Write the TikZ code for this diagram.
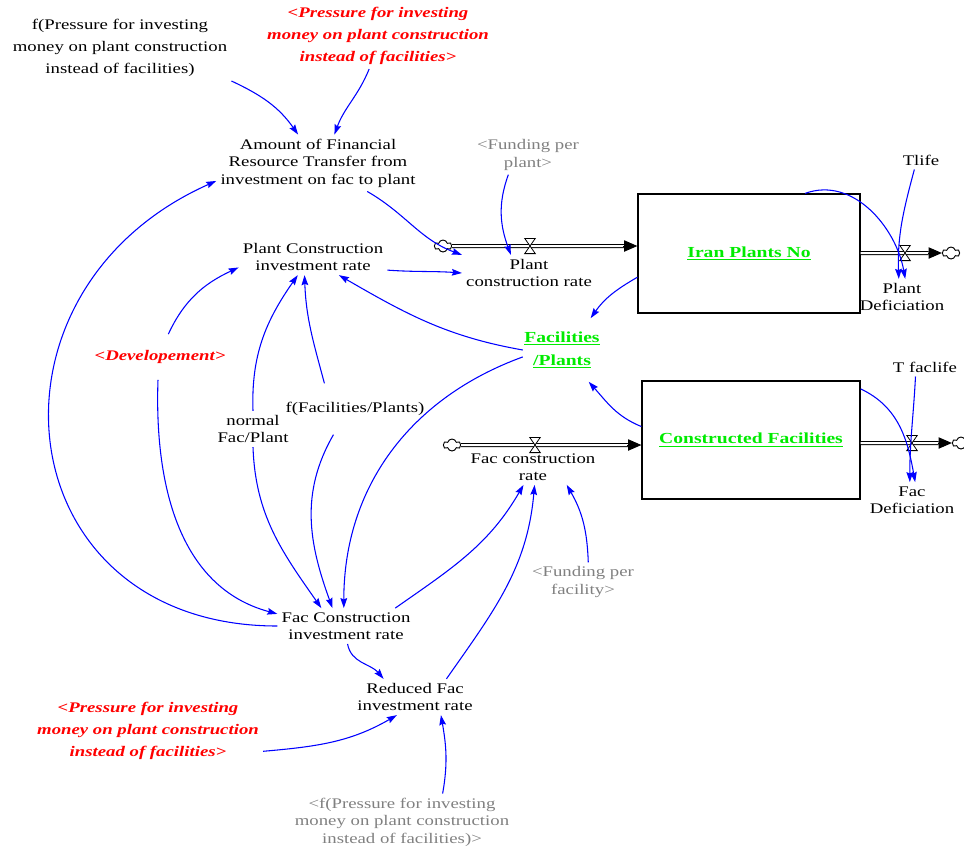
\documentclass[tikz,border=0pt]{standalone}
\usepackage{fontspec}
\setmainfont{Liberation Serif}[FakeStretch=1.28]
\usetikzlibrary{arrows.meta,shapes.symbols}

\definecolor{linkblue}{RGB}{0,0,255}
\definecolor{stockgreen}{RGB}{0,235,0}
\definecolor{shadowgray}{RGB}{128,128,128}
\definecolor{inred}{RGB}{255,0,0}

\tikzset{
  var/.style={align=center, inner sep=3pt, font=\fontsize{11}{13.1}\selectfont},
  bigvar/.style={var, font=\fontsize{11}{16.5}\selectfont},
  redvar/.style={var, text=inred, font=\fontsize{11}{16.5}\selectfont\bfseries\itshape},
  shadowvar/.style={var, text=shadowgray},
  stock/.style={draw, line width=0.9pt, text=stockgreen, font=\fontsize{11.5}{17}\selectfont\bfseries},
  stockvar/.style={var, text=stockgreen, font=\fontsize{11.5}{17.25}\selectfont\bfseries, inner xsep=1pt, inner ysep=10pt},
  link/.style={draw=linkblue, line width=0.8pt, -{Stealth[length=7.5pt,width=5pt,inset=1pt]}},
  pipe/.style={double=white, double distance=1.5pt, line width=0.75pt},
  flowtip/.style={line width=0.75pt, -{Triangle[length=10pt,width=8.5pt]}},
  sink/.style={cloud, cloud puffs=6, draw, fill=white, line width=0.7pt, minimum width=13pt, minimum height=9pt, inner sep=0pt, aspect=1.4},
  valve/.style={minimum width=7.5pt, minimum height=11pt, inner sep=0pt},
}

\begin{document}
\begin{tikzpicture}[x=0.75pt,y=0.75pt]
  \useasboundingbox (0,0) rectangle (964,-850);

  % stocks
  \node[stock, minimum width=166.5pt, minimum height=89.25pt] (iran) at (749,-253.5) {\underline{Iran Plants No}};
  \node[stock, minimum width=163.5pt, minimum height=88.5pt] (constr) at (751,-440) {\underline{Constructed Facilities}};

  % flows
  \node[sink] (cpc) at (443,-246) {};
  \node[sink] (cpd) at (951,-253) {};
  \node[sink] (cfc) at (452,-445) {};
  \node[sink] (cfd) at (961,-443) {};
  \coordinate (pcin) at (cpc -| iran.west);
  \coordinate (pdout) at (cpd -| iran.east);
  \coordinate (fcin) at (cfc -| constr.west);
  \coordinate (fdout) at (cfd -| constr.east);
  \foreach \a/\b in {cpc.east/pcin, pdout/cpd.west, cfc.east/fcin, fdout/cfd.west} {
    \draw[pipe] (\a) -- ([xshift=-10pt]\b);
    \draw[flowtip] ([xshift=-10.5pt]\b) -- (\b);
  }
  \foreach \v/\x/\y in {vpc/530/246, vpd/905/253, vfc/535/445, vfd/912/443}
    \node[valve] (\v) at (\x,-\y) {};
  \foreach \v in {vpc,vpd,vfc,vfd}
    \draw[fill=white, line width=0.6pt] (\v.north west) -- (\v.north east) -- (\v.south west) -- (\v.south east) -- cycle;

  % variables
  \node[bigvar] (fpress) at (120,-48) {f(Pressure for investing\\money on plant construction\\instead of facilities)};
  \node[redvar] (redtop) at (378,-36) {<Pressure for investing\\money on plant construction\\instead of facilities>};
  \node[var] (amount) at (318,-163) {Amount of Financial\\Resource Transfer from\\investment on fac to plant};
  \node[shadowvar] (fundplant) at (528,-155) {<Funding per\\plant>};
  \node[var] (tlife) at (921,-160) {Tlife};
  \node[var] (pcr) at (529,-273) {Plant\\construction rate};
  \node[var] (pcir) at (313,-257) {Plant Construction\\investment rate};
  \node[stockvar] (facplants) at (562,-350) {\underline{Facilities}\\\underline{/Plants}};
  \node[var] (pdef) at (902,-297) {Plant\\Deficiation};
  \node[redvar, inner ysep=12pt] (devel) at (160,-357) {<Developement>};
  \node[var] (tfaclife) at (925,-367) {T faclife};
  \node[var] (nfp) at (253,-429) {normal\\Fac/Plant};
  \node[var, inner ysep=14pt] (ffp) at (355,-409) {f(Facilities/Plants)};
  \node[var] (fcr) at (533,-467) {Fac construction\\rate};
  \node[var] (fdef) at (912,-500) {Fac\\Deficiation};
  \node[shadowvar] (fundfac) at (583,-582) {<Funding per\\facility>};
  \node[var] (fcir) at (346,-626) {Fac Construction\\investment rate};
  \node[var] (rfir) at (415,-697) {Reduced Fac\\investment rate};
  \node[redvar] (redbot) at (148,-731) {<Pressure for investing\\money on plant construction\\instead of facilities>};
  \node[shadowvar] (graybot) at (402,-822) {<f(Pressure for investing\\money on plant construction\\instead of facilities)>};

  % links
  \draw[link] (fpress.south east) to[out=-25,in=125] (amount);
  \draw[link] (redtop.-105) to[out=-112,in=70] (amount.60);
  \draw[link] (amount) to[out=-30,in=160] (pcr.north west);
  \draw[link] (fundplant.-135) to[out=-110,in=110] (pcr.135);
  \draw[link] (pcir.-10) to[out=-4,in=176] (pcr.west);
  \draw[link] (iran.-168) to[out=-150,in=55] (facplants.48);
  \draw[link] (facplants.west) to[out=170,in=-30] (pcir.-35);
  \draw[link] (constr.173) to[out=158,in=-48] (facplants.-50);
  \draw[link] (facplants.190) to[out=200,in=90] (fcir.97);
  \draw[link] (devel.70) to[out=65,in=205] (pcir.-172);
  \draw[link] (devel.-95) to[out=-92,in=165] (fcir.170);
  \draw[link] (nfp.north) to[out=92,in=-125] (pcir.-130);
  \draw[link] (nfp.south) to[out=-88,in=125] (fcir.144);
  \draw[link] (ffp.140) to[out=105,in=-88] (pcir.-115);
  \draw[link] (ffp.-130) to[out=-120,in=110] (fcir.127);
  \draw[link] (fcir.20) to[out=35,in=-120] (fcr.-118);
  \draw[link] (rfir.30) to[out=55,in=-95] (fcr.-85);
  \draw[link] (fundfac.75) to[out=92,in=-60] (fcr.-28);
  \draw[link] (fcir.-85) to[out=-80,in=130] (rfir.150);
  \draw[link] (redbot.-10) to[out=5,in=-150] (rfir.-135);
  \draw[link] (graybot.35) to[out=80,in=-80] (rfir.-35);
  \draw[link] (fcir.west) to[out=180,in=204,looseness=1.55] (amount.-170);
  \draw[link] (iran.47) to[out=20,in=100] (pdef.80);
  \draw[link] (tlife.-125) to[out=-105,in=92] (pdef.100);
  \draw[link] (constr.25) to[out=-25,in=100] (fdef.80);
  \draw[link] (tfaclife.-135) to[out=-93,in=90] (fdef.97);
\end{tikzpicture}
\end{document}
